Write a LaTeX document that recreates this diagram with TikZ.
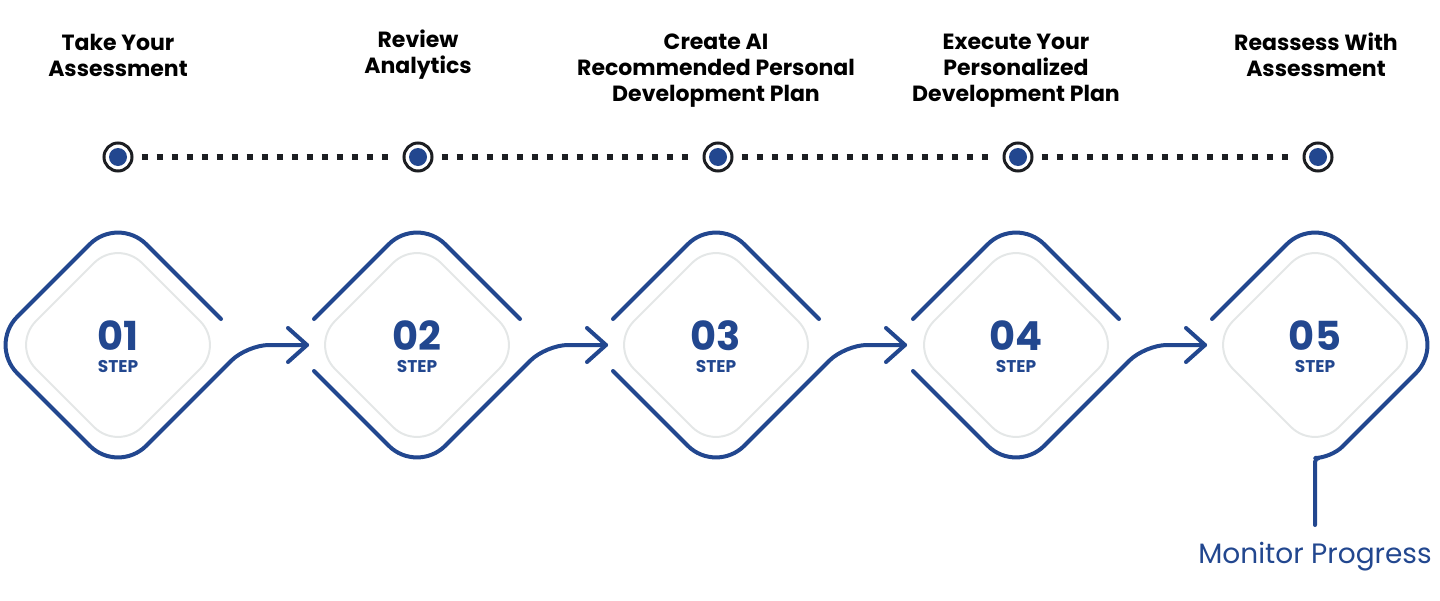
\documentclass[tikz,border=0pt]{standalone}
\usepackage{fontspec}
\setmainfont{Poppins}
\usetikzlibrary{positioning}
\definecolor{stepblue}{HTML}{22478F}
\definecolor{ringdark}{HTML}{1C1E22}
\definecolor{innergray}{HTML}{E4E7E7}
\tikzset{
  outline/.style={draw=stepblue, line width=2pt, line cap=round, line join=round, rounded corners=20pt},
  inner/.style={draw=innergray, line width=1pt, rounded corners=17pt},
  title/.style={align=center, font=\fontsize{11}{13}\selectfont\bfseries, text=black},
  num/.style={font=\fontsize{20}{20}\selectfont\bfseries, text=stepblue, inner sep=0pt},
  steplbl/.style={font=\fontsize{8.5}{8.5}\selectfont\bfseries, text=stepblue, inner sep=0pt},
  dot/.style={circle, draw=ringdark, line width=1.5pt, fill=white, minimum size=14pt, inner sep=0pt,
    path picture={\fill[stepblue] (path picture bounding box.center) circle (4.5pt);}}
}
\begin{document}
\begin{tikzpicture}[x=0.5pt, y=-0.5pt]
\useasboundingbox (0,0) rectangle (1440,600);

% dots and dotted line
\foreach \i/\c in {1/118, 2/418, 3/718, 4/1018, 5/1318}
  \node[dot] (d\i) at (\c,157) {};
\foreach \i/\j in {1/2, 2/3, 3/4, 4/5}
  \draw[ringdark, line width=3pt, dash pattern=on 3pt off 4.5pt, shorten <=4pt, shorten >=3pt] (d\i) -- (d\j);

% titles
\node[title] (t1) at (118,55) {Take Your\\Assessment};
\node[title] (t2) at (418,55) {Review\\Analytics};
\node[title] (t3) at (716,71) {Create AI\\Recommended Personal\\Development Plan};
\node[title] (t4) at (1016,71) {Execute Your\\Personalized\\Development Plan};
\node[title] (t5) at (1316,55) {Reassess With\\Assessment};

% diamonds
\foreach \i/\c in {1/118, 2/417, 3/716, 4/1016, 5/1315} {
  \begin{scope}[shift={(\c,345)}]
    \draw[inner] (0,-106) -- (106,0) -- (0,106) -- (-106,0) -- cycle;
  \end{scope}
  \node[num] (n\i) at (\c,336) {0\i};
  \node[steplbl] (s\i) at (\c,367) {STEP};
}
% first
\begin{scope}[shift={(118,345)}]
  \draw[outline] (103,-26) -- (0,-129) -- (-129,0) -- (0,129) [rounded corners=11pt] -- (129,0) -- (189,0);
  \draw[outline, rounded corners=0pt] (170,-17) -- (189,0) -- (170,17);
\end{scope}
% middle
\foreach \c in {417, 716, 1016} {
  \begin{scope}[shift={(\c,345)}]
    \draw[outline] (-103,-26) -- (0,-129) -- (103,-26);
    \draw[outline] (-103,26) -- (0,129) [rounded corners=11pt] -- (129,0) -- (189,0);
    \draw[outline, rounded corners=0pt] (170,-17) -- (189,0) -- (170,17);
  \end{scope}
}
% last
\begin{scope}[shift={(1315,345)}]
  \draw[outline] (-103,-26) -- (0,-129) -- (129,0) [rounded corners=8pt] -- (16,113) [rounded corners=2pt] -- (0,113) -- (0,180);
\end{scope}
\node[font=\fontsize{14}{14}\selectfont, text=stepblue] (mp) at (1315,557) {Monitor Progress};
\end{tikzpicture}
\end{document}
